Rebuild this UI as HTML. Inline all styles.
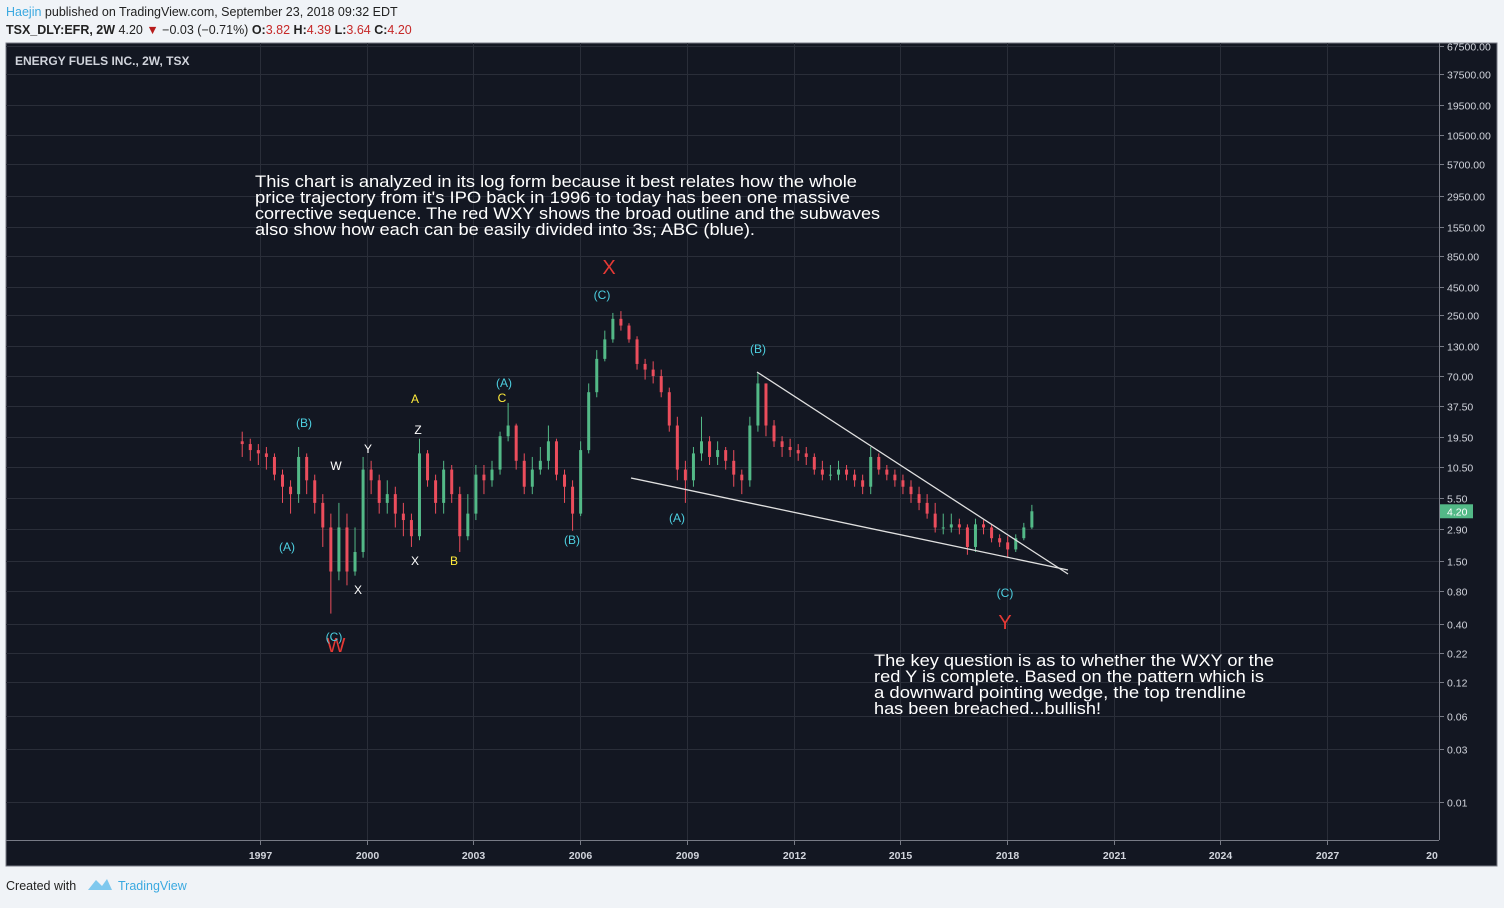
<!DOCTYPE html>
<html><head><meta charset="utf-8">
<style>
html,body{margin:0;padding:0;background:#f0f3f7;}
body{width:1504px;height:903px;overflow:hidden;font-family:"Liberation Sans",sans-serif;}
</style></head>
<body>
<svg id="chart" width="1504" height="903" xmlns="http://www.w3.org/2000/svg" font-family="Liberation Sans, sans-serif">
<rect x="0" y="0" width="1504" height="903" fill="#f0f3f7"/>
<text x="6" y="16" font-size="12.5" fill="#222"><tspan fill="#3ba9e0">Haejin</tspan> published on TradingView.com, September 23, 2018 09:32 EDT</text>
<text x="6" y="34" font-size="12.5" fill="#222"><tspan font-weight="bold">TSX_DLY:EFR, 2W</tspan>  4.20 <tspan fill="#b71c1c">▼</tspan> −0.03 (−0.71%) <tspan font-weight="bold">O:</tspan><tspan fill="#c62828">3.82</tspan> <tspan font-weight="bold">H:</tspan><tspan fill="#c62828">4.39</tspan> <tspan font-weight="bold">L:</tspan><tspan fill="#c62828">3.64</tspan> <tspan font-weight="bold">C:</tspan><tspan fill="#c62828">4.20</tspan></text>
<rect x="6" y="43" width="1491" height="823" fill="#131722" stroke="#787b86" stroke-width="1"/>
<g id="grid"></g>
<line x1="1439.5" y1="43" x2="1439.5" y2="840" stroke="#787b86"/>
<line x1="6" y1="840.5" x2="1439" y2="840.5" stroke="#787b86"/>
<g id="yticks"></g>
<g id="xticks"></g>
<text x="15" y="65" font-size="12" font-weight="bold" fill="#d1d4dc">ENERGY FUELS INC., 2W, TSX</text>
<g id="candles"></g>
<line x1="757" y1="372" x2="1068" y2="574" stroke="#e0e0e0" stroke-width="1.3"/>
<line x1="631" y1="478" x2="1068" y2="570" stroke="#e0e0e0" stroke-width="1.3"/>
<g font-size="12" text-anchor="middle">
<text x="304" y="427" fill="#4dd0e1">(B)</text>
<text x="287" y="551" fill="#4dd0e1">(A)</text>
<text x="336" y="652" fill="#e53935" font-size="20">W</text>
<text x="334" y="641" fill="#4dd0e1">(C)</text>
<text x="336" y="470" fill="#ffffff">W</text>
<text x="368" y="453" fill="#ffffff">Y</text>
<text x="358" y="594" fill="#ffffff">X</text>
<text x="418" y="434" fill="#ffffff">Z</text>
<text x="415" y="565" fill="#ffffff">X</text>
<text x="415" y="403" fill="#ffeb3b">A</text>
<text x="454" y="565" fill="#ffeb3b">B</text>
<text x="502" y="402" fill="#ffeb3b">C</text>
<text x="504" y="387" fill="#4dd0e1">(A)</text>
<text x="572" y="544" fill="#4dd0e1">(B)</text>
<text x="602" y="299" fill="#4dd0e1">(C)</text>
<text x="609" y="274" fill="#e53935" font-size="20">X</text>
<text x="677" y="522" fill="#4dd0e1">(A)</text>
<text x="758" y="353" fill="#4dd0e1">(B)</text>
<text x="1005" y="597" fill="#4dd0e1">(C)</text>
<text x="1005" y="629" fill="#e53935" font-size="20">Y</text>
</g>
<g font-size="16.5" fill="#ffffff">
<text x="255" y="187" textLength="602" lengthAdjust="spacingAndGlyphs">This chart is analyzed in its log form because it best relates how the whole</text>
<text x="255" y="203" textLength="595" lengthAdjust="spacingAndGlyphs">price trajectory from it's IPO back in 1996 to today has been one massive</text>
<text x="255" y="219" textLength="625" lengthAdjust="spacingAndGlyphs">corrective sequence. The red WXY shows the broad outline and the subwaves</text>
<text x="255" y="235" textLength="500" lengthAdjust="spacingAndGlyphs">also show how each can be easily divided into 3s; ABC (blue).</text>
</g>
<g font-size="16.5" fill="#ffffff">
<text x="874" y="666" textLength="400" lengthAdjust="spacingAndGlyphs">The key question is as to whether the WXY or the</text>
<text x="874" y="682" textLength="390" lengthAdjust="spacingAndGlyphs">red Y is complete. Based on the pattern which is</text>
<text x="874" y="698" textLength="372" lengthAdjust="spacingAndGlyphs">a downward pointing wedge, the top trendline</text>
<text x="874" y="714" textLength="227" lengthAdjust="spacingAndGlyphs">has been breached...bullish!</text>
</g>
<g id="lastprice"></g>
<text x="6" y="890" font-size="12.5" fill="#222">Created with</text>
<path d="M88 890 L96 880 L102 886 L107 879 L112 890 Z" fill="#7ec8ee"/>
<text x="118" y="890" font-size="12.5" fill="#3ba9e0">TradingView</text>
</svg>
<script>
const closes=[17,15,14,13,9,7,6,13,8,5,3,1.2,3,1.2,1.8,10,8,5,6,4,3.5,2.5,14,8,5,10,6,2.5,4,9,8,10,20,25,12,7,10,12,18,9,7,4,15,50,100,150,230,200,150,90,80,70,50,25,10,8,14,18,13,15,12,9,8,25,60,25,18,16,15,14,13,10,9,9,10,9,8,7,13,10,9,8,7,6,5,4,3,3,3.2,3,2,3.2,3,2.4,2.2,1.9,2.4,3,4.2];
const highs=[22,19,17,16,14,10,8,16,14,9,6,4,5,4,3,13,12,9,8,7,5,4,19,15,9,12,11,7,6,11,11,12,22,40,26,14,13,16,25,19,10,8,18,60,120,180,260,270,210,160,100,95,80,55,30,12,16,30,20,18,16,15,10,30,75,60,28,20,19,17,16,14,12,11,12,11,10,9,16,14,11,10,9,8,7,6,5,4,4,3.6,3.2,3.6,3.5,3.2,2.6,2.5,2.6,3.3,4.8];
const lows=[13,12,11,10,8,5,4,5,6,4,2,0.5,1,0.9,1.1,1.6,6,4,4,3,2.5,2,2.3,7,4,4,5,1.8,2.3,3.5,6,7,9,18,10,6,6,9,10,8,5,2.8,3.8,14,45,95,140,180,140,80,65,60,45,22,8,5,7,12,11,11,10,7,6,7,22,20,16,13,13,12,11,9,8,8,8,8,7,6,6,9,8,7,6,5,4.3,3.6,2.7,2.6,2.7,2.6,1.7,1.8,2.6,2.2,2,1.6,1.8,2.3,2.9];
const firstOpen=18;
const startYear=1996.5, endYear=2018.7;
const yTickLabels=["67500.00","37500.00","19500.00","10500.00","5700.00","2950.00","1550.00","850.00","450.00","250.00","130.00","70.00","37.50","19.50","10.50","5.50","2.90","1.50","0.80","0.40","0.22","0.12","0.06","0.03","0.01"];
const xTickYears=[1997,2000,2003,2006,2009,2012,2015,2018,2021,2024,2027,2030];
const lastPrice=4.20;

const NS="http://www.w3.org/2000/svg";
function py(p){return 591-110.7*Math.log10(p/0.8);}
function px(year){return 260+(year-1997)*35.57;}
function mk(tag,attrs,parent){const e=document.createElementNS(NS,tag);for(const k in attrs)e.setAttribute(k,attrs[k]);parent.appendChild(e);return e;}
const gridG=document.getElementById('grid'),ytG=document.getElementById('yticks'),xtG=document.getElementById('xticks'),candleG=document.getElementById('candles');
yTickLabels.forEach(l=>{
  let y=Math.round(py(parseFloat(l)))+0.5;
  let ty=y+4;
  if(y<46){y=45.5;ty=49;}
  const g=mk('line',{x1:6,y1:y,x2:1439,y2:y,stroke:'#2a2e39'},gridG);
  
  
  mk('line',{x1:1439,y1:y,x2:1444,y2:y,stroke:'#787b86'},ytG);
  const t=mk('text',{x:1447,y:ty,'font-size':10.5,fill:'#d1d4dc'},ytG);
  t.textContent=l;
  
  
});
xTickYears.forEach(yr=>{
  const xr=px(yr);
  const x=Math.round(xr)+0.5;
  const last=yr===2030;
  if(!last){
    const g=mk('line',{x1:x,y1:43,x2:x,y2:840,stroke:'#2a2e39'},gridG);
    
    
    mk('line',{x1:x,y1:840,x2:x,y2:845,stroke:'#787b86'},xtG);
  }
  const t=mk('text',{x:last?1432:x,y:859,'font-size':10.5,'font-weight':'bold',fill:'#d1d4dc','text-anchor':'middle'},xtG);
  t.textContent=last?"20":String(yr);
  
  
});
const n=closes.length;
for(let i=0;i<n;i++){
  const yr=startYear+(endYear-startYear)*i/(n-1);
  const x=px(yr);
  const o=i===0?firstOpen:closes[i-1],c=closes[i];
  const col=c>=o?'#53b987':'#eb4d5c';
  const g=mk('g',{},candleG);
  
  
  mk('line',{x1:x,y1:py(highs[i]),x2:x,y2:py(lows[i]),stroke:col,'stroke-width':1},g);
  const y1=py(Math.max(o,c)),y2=py(Math.min(o,c));
  mk('rect',{x:x-1.5,y:y1,width:3,height:Math.max(1,y2-y1),fill:col},g);
}
const lp=document.getElementById('lastprice');
const ly=py(lastPrice);
mk('rect',{x:1440,y:ly-7,width:33,height:14,fill:'#53b987'},lp);
const lt=mk('text',{x:1447,y:ly+4,'font-size':10.5,fill:'#ffffff'},lp);lt.textContent=lastPrice.toFixed(2);
</script>
</body></html>
